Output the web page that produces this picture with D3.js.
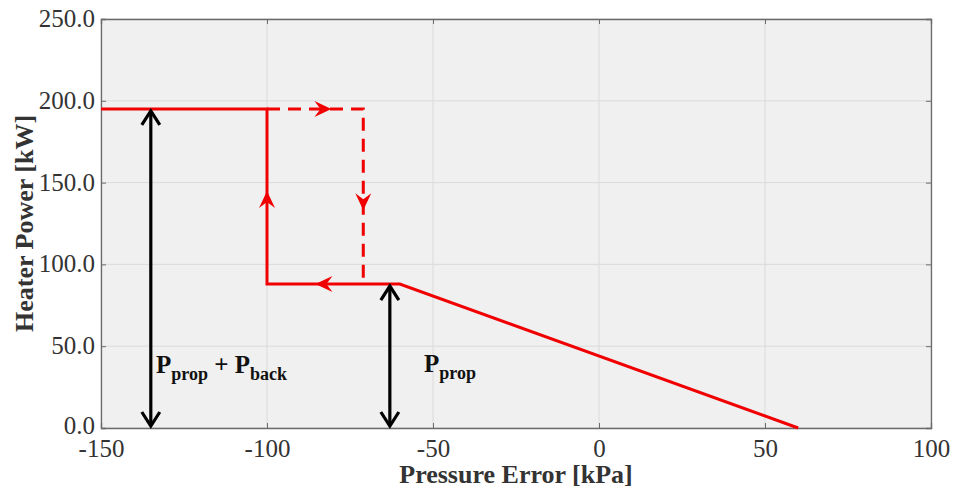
<!DOCTYPE html>
<html><head><meta charset="utf-8">
<script src="https://cdn.jsdelivr.net/npm/d3@7"></script>
<style>body{margin:0;background:#fff}svg{display:block}</style>
</head><body><svg id="c" width="953" height="491"></svg>
<script>
const xTicks = [-150, -100, -50, 0, 50, 100];
const yTicks = [0, 50, 100, 150, 200, 250];
const solidX = [-150, -100, -100, -60, 60];
const solidY = [195, 195, 88, 88, 0];
const dashX = [-100, -71, -71];
const dashY = [195, 195, 88];
// direction arrows on the loop: [x, y, direction]
const dirArrowX = [-83, -71, -100, -83];
const dirArrowY = [195, 138, 140, 88];
const dirArrowD = ["right", "down", "up", "left"];
// black double arrows
const spanX = [-135, -63];
const spanY0 = [0, 0];
const spanY1 = [195, 88];

const svg = d3.select("#c");
const m = {l: 101, t: 19, r: 931, b: 428};
const x = d3.scaleLinear().domain([-150, 100]).range([m.l, m.r]);
const y = d3.scaleLinear().domain([0, 250]).range([m.b, m.t]);
const font = "'Liberation Serif','Times New Roman',serif";

svg.append("rect").attr("x", m.l).attr("y", m.t).attr("width", m.r - m.l).attr("height", m.b - m.t).attr("fill", "#f0f0f0");

// grid
svg.append("g").selectAll("line").data(xTicks).join("line")
  .attr("x1", d => x(d)).attr("x2", d => x(d)).attr("y1", m.t).attr("y2", m.b)
  .attr("stroke", "#dadada").attr("stroke-width", 1);
svg.append("g").selectAll("line").data(yTicks).join("line")
  .attr("y1", d => y(d)).attr("y2", d => y(d)).attr("x1", m.l).attr("x2", m.r)
  .attr("stroke", "#dadada").attr("stroke-width", 1);

// axes
const xAxis = svg.append("g").attr("transform", `translate(0,${m.b})`)
  .call(d3.axisBottom(x).tickValues(xTicks).tickSize(-5).tickPadding(11).tickFormat(d => String(d)));
const xTop = svg.append("g").attr("transform", `translate(0,${m.t})`)
  .call(d3.axisTop(x).tickValues(xTicks).tickSize(-5).tickFormat(""));
const yAxis = svg.append("g").attr("transform", `translate(${m.l},0)`)
  .call(d3.axisLeft(y).tickValues(yTicks).tickSize(-5).tickPadding(6).tickFormat(d => d.toFixed(1)));
const yRight = svg.append("g").attr("transform", `translate(${m.r},0)`)
  .call(d3.axisRight(y).tickValues(yTicks).tickSize(-5).tickFormat(""));
[xAxis, xTop, yAxis, yRight].forEach(g => {
  g.selectAll("path").attr("stroke", "#6b6b6b").attr("stroke-width", 1.3);
  g.selectAll("line").attr("stroke", "#6b6b6b");
  g.selectAll("text").attr("font-family", font).attr("font-size", 25).attr("fill", "#333");
});
yAxis.selectAll("text").attr("dy", d => d === 0 ? "0.2em" : "0.3em");

// lines
const line = d3.line().x(d => x(d[0])).y(d => y(d[1]));
svg.append("path").attr("d", line(solidX.map((v, i) => [v, solidY[i]])))
  .attr("fill", "none").attr("stroke", "#f00000").attr("stroke-width", 3).attr("stroke-linejoin", "miter");
svg.append("path").attr("d", line(dashX.map((v, i) => [v, dashY[i]])))
  .attr("fill", "none").attr("stroke", "#f00000").attr("stroke-width", 3).attr("stroke-dasharray", "13,8");

// arrowhead shape (pointing right, tip at origin)
function head(L, W, notch) {
  return `M0,0 L${-L},${-W} L${-L + notch},0 L${-L},${W} Z`;
}
const rot = {right: 0, down: 90, left: 180, up: -90};
svg.append("g").selectAll("path").data(dirArrowX).join("path")
  .attr("d", head(17, 8, 6))
  .attr("transform", (d, i) => {
    const r = rot[dirArrowD[i]];
    const off = 8;
    const dx = Math.cos(r * Math.PI / 180) * off, dy = Math.sin(r * Math.PI / 180) * off;
    return `translate(${x(d) + dx},${y(dirArrowY[i]) + dy}) rotate(${r})`;
  })
  .attr("fill", "#f00000");

// black double arrows
const sg = svg.append("g");
spanX.forEach((sx, i) => {
  const px = x(sx), ya = y(spanY0[i]), yb = y(spanY1[i]);
  sg.append("line").attr("x1", px).attr("x2", px).attr("y1", ya - 4).attr("y2", yb + 4)
    .attr("stroke", "#000").attr("stroke-width", 3.2);
  sg.append("path").attr("d", "M-9,14 L0,0 L9,14").attr("transform", `translate(${px},${yb + 2})`)
    .attr("fill", "none").attr("stroke", "#000").attr("stroke-width", 3.2);
  sg.append("path").attr("d", "M-9,-14 L0,0 L9,-14").attr("transform", `translate(${px},${ya - 2})`)
    .attr("fill", "none").attr("stroke", "#000").attr("stroke-width", 3.2);
});

// annotations
const t1 = svg.append("text").attr("x", 156).attr("y", 373).attr("font-family", font).attr("font-weight", "bold").attr("font-size", 25).attr("fill", "#111");
t1.append("tspan").text("P");
t1.append("tspan").attr("font-size", 18).attr("dy", 7).text("prop");
t1.append("tspan").attr("dy", -7).text(" + P");
t1.append("tspan").attr("font-size", 18).attr("dy", 7).text("back");
const t2 = svg.append("text").attr("x", 424).attr("y", 372).attr("font-family", font).attr("font-weight", "bold").attr("font-size", 25).attr("fill", "#111");
t2.append("tspan").text("P");
t2.append("tspan").attr("font-size", 18).attr("dy", 7).text("prop");

// axis titles
svg.append("text").attr("x", 516).attr("y", 483).attr("text-anchor", "middle")
  .attr("font-family", font).attr("font-weight", "bold").attr("font-size", 26).attr("fill", "#333")
  .text("Pressure Error [kPa]");
svg.append("text").attr("transform", `translate(24,${(m.t + m.b) / 2}) rotate(-90)`).attr("text-anchor", "middle")
  .attr("dy", "0.35em")
  .attr("font-family", font).attr("font-weight", "bold").attr("font-size", 26).attr("fill", "#333")
  .text("Heater Power [kW]");
</script></body></html>
